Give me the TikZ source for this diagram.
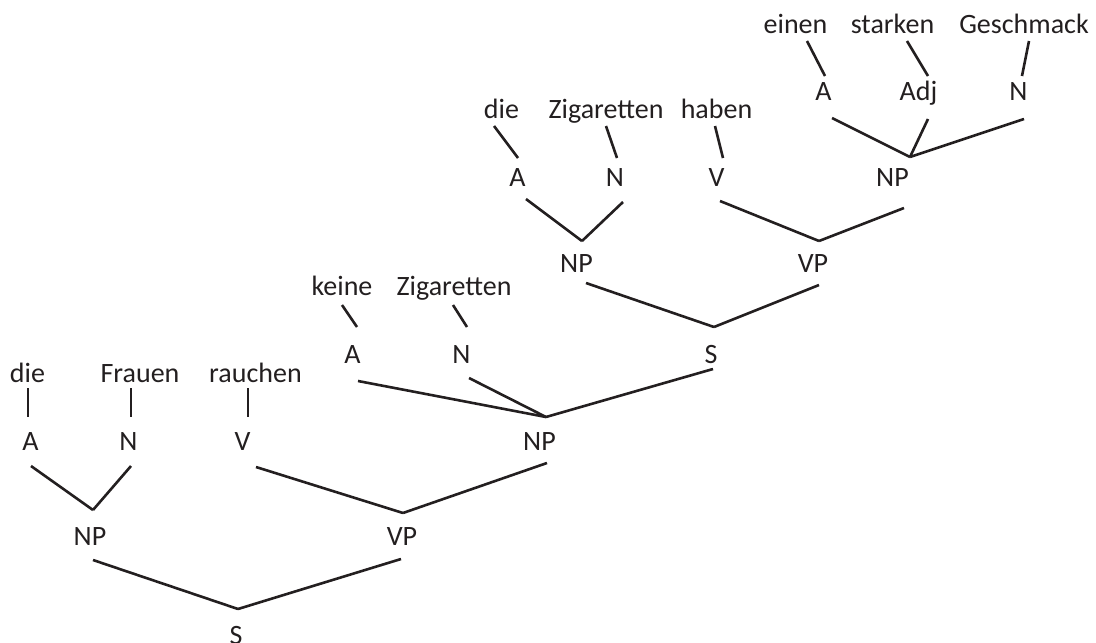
\documentclass[tikz,border=0pt]{standalone}
\usepackage{fontspec}
\setmainfont{Carlito}
\definecolor{ink}{HTML}{231F20}
\begin{document}
\begin{tikzpicture}[x=1pt,y=-1pt,
  lab/.style={anchor=base,inner sep=0pt,text=ink,font=\fontsize{28}{34}\selectfont},
  br/.style={draw=ink,line width=2.6pt}]
\useasboundingbox (0,0) rectangle (1096,643);
% lower tree
\node[lab] (w1) at (27.5,382) {die};
\node[lab] (w2) at (140,382) {Frauen};
\node[lab] (w3) at (255.5,382) {rauchen};
\node[lab] (a1) at (30.5,450) {A};
\node[lab] (n1) at (128.5,450) {N};
\node[lab] (v1) at (242.5,450) {V};
\node[lab] (np1) at (90,545) {NP};
\node[lab] (vp1) at (402,545) {VP};
\node[lab] (s1) at (236,644) {S};
\node[lab] (np2) at (539.5,450) {NP};
% middle
\node[lab] (w4) at (342,295) {keine};
\node[lab] (w5) at (454,295) {Zigaretten};
\node[lab] (a2) at (352.5,363) {A};
\node[lab] (n2) at (461.5,363) {N};
\node[lab] (s2) at (711,363) {S};
\node[lab] (np3) at (576.5,272) {NP};
\node[lab] (vp2) at (813,272) {VP};
% upper
\node[lab] (a3) at (517.5,186) {A};
\node[lab] (n3) at (615,186) {N};
\node[lab] (v2) at (716.5,186) {V};
\node[lab] (np4) at (892.5,186) {NP};
\node[lab] (w6) at (501.5,118) {die};
\node[lab] (w7) at (606,118) {Zigaretten};
\node[lab] (w8) at (716.5,118) {haben};
\node[lab] (a4) at (823.5,100) {A};
\node[lab] (adj) at (918.5,100) {Adj};
\node[lab] (n4) at (1018.5,100) {N};
\node[lab] (w9) at (795.5,33) {einen};
\node[lab] (w10) at (892.5,33) {starken};
\node[lab] (w11) at (1024,33) {Geschmack};
% branches
\draw[br] ([shift={(0.5,6)}]w1.base) -- ([shift={(-2.5,-33)}]a1.base);
\draw[br] ([shift={(-9,6)}]w2.base) -- ([shift={(2.5,-33)}]n1.base);
\draw[br] ([shift={(-7.5,6)}]w3.base) -- ([shift={(5.5,-33)}]v1.base);
\draw[br] ([shift={(0.5,16)}]a1.base) -- ([shift={(3,-35)}]np1.base);
\draw[br] ([shift={(2.5,16)}]n1.base) -- ([shift={(3,-35)}]np1.base);
\draw[br] ([shift={(13.5,17)}]v1.base) -- ([shift={(1,-32)}]vp1.base);
\draw[br] ([shift={(7.5,13)}]np2.base) -- ([shift={(1,-32)}]vp1.base);
\draw[br] ([shift={(3,15)}]np1.base) -- ([shift={(2,-35)}]s1.base);
\draw[br] ([shift={(-1,14)}]vp1.base) -- ([shift={(2,-35)}]s1.base);
\draw[br] ([shift={(0,10)}]w4.base) -- ([shift={(4.5,-36)}]a2.base);
\draw[br] ([shift={(-1,10)}]w5.base) -- ([shift={(5.5,-36)}]n2.base);
\draw[br] ([shift={(5.5,18)}]a2.base) -- ([shift={(6.5,-33)}]np2.base);
\draw[br] ([shift={(7.5,15)}]n2.base) -- ([shift={(6.5,-33)}]np2.base);
\draw[br] ([shift={(2,6)}]s2.base) -- ([shift={(6.5,-33)}]np2.base);
\draw[br] ([shift={(9.5,11)}]np3.base) -- ([shift={(3,-36)}]s2.base);
\draw[br] ([shift={(6,13)}]vp2.base) -- ([shift={(3,-36)}]s2.base);
\draw[br] ([shift={(8.5,13)}]a3.base) -- ([shift={(5.5,-31)}]np3.base);
\draw[br] ([shift={(8,16)}]n3.base) -- ([shift={(5.5,-31)}]np3.base);
\draw[br] ([shift={(-7.5,8)}]w6.base) -- ([shift={(0.5,-28)}]a3.base);
\draw[br] ([shift={(0,8)}]w7.base) -- ([shift={(2,-28)}]n3.base);
\draw[br] ([shift={(-1.5,8)}]w8.base) -- ([shift={(6.5,-28)}]v2.base);
\draw[br] ([shift={(3.5,15)}]v2.base) -- ([shift={(6,-31)}]vp2.base);
\draw[br] ([shift={(11.5,22)}]np4.base) -- ([shift={(6,-31)}]vp2.base);
\draw[br] ([shift={(8.5,18)}]a4.base) -- ([shift={(17.5,-29)}]np4.base);
\draw[br] ([shift={(9.5,19)}]adj.base) -- ([shift={(17.5,-29)}]np4.base);
\draw[br] ([shift={(5.5,19)}]n4.base) -- ([shift={(17.5,-29)}]np4.base);
\draw[br] ([shift={(11.5,8)}]w9.base) -- ([shift={(1.5,-24)}]a4.base);
\draw[br] ([shift={(14.5,8)}]w10.base) -- ([shift={(9.5,-24)}]adj.base);
\draw[br] ([shift={(5,8)}]w11.base) -- ([shift={(3.5,-24)}]n4.base);
\end{tikzpicture}
\end{document}
